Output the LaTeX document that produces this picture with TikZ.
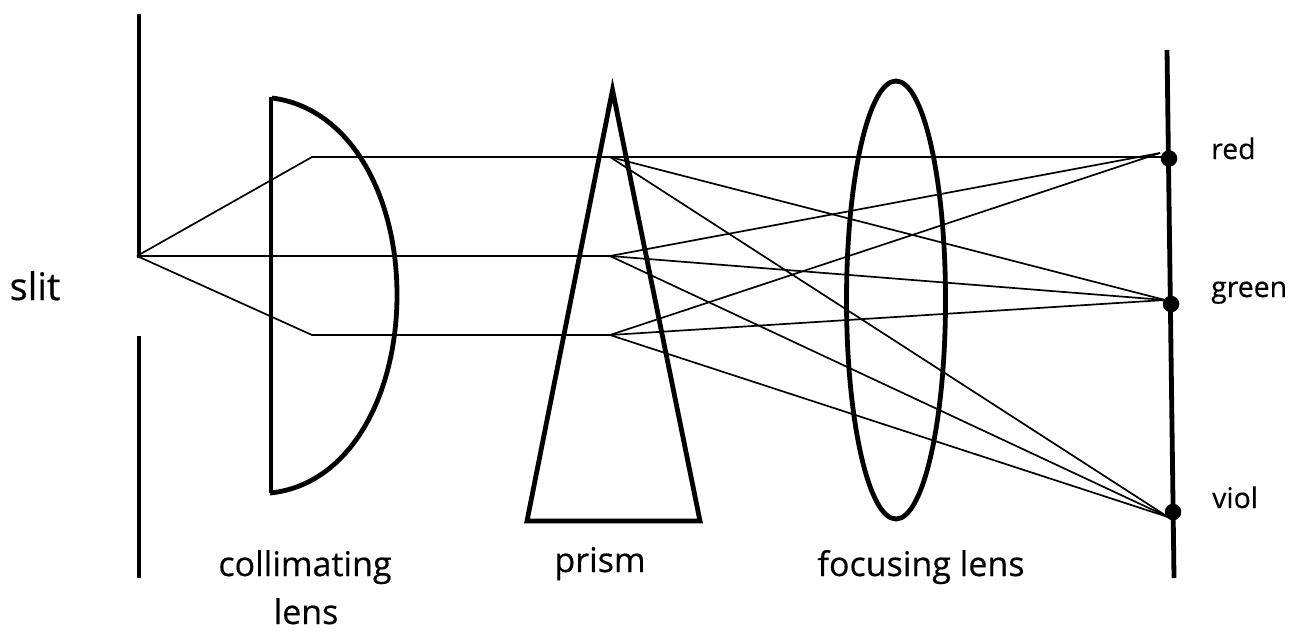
\documentclass[tikz,border=0pt]{standalone}
\usepackage{fontspec}
\setmainfont{Open Sans}[FakeBold=0.4]
\newfontfamily\labfont{Open Sans}[FakeBold=0.4]
\begin{document}
\begin{tikzpicture}[x=1pt,y=-1pt,
  ray/.style={line width=1.7pt,black},
  optic/.style={line width=4.8pt,black},
  dotmark/.style={circle,fill=black,inner sep=0pt,minimum size=16.5pt},
  big/.style={inner sep=0pt,font=\labfont\fontsize{38}{44}\selectfont},
  lab/.style={inner sep=0pt,font=\labfont\fontsize{34}{40}\selectfont},
  small/.style={inner sep=0pt,font=\labfont\fontsize{28.4}{32}\selectfont}]
\useasboundingbox (0,0) rectangle (1300,630);
\fill[white] (0,0) rectangle (1300,630);
\coordinate (src) at (137,256);
\coordinate (slt) at (139,14);
\coordinate (slm) at (139,258);
\coordinate (slb) at (139,336);
\coordinate (sle) at (139,578);
\coordinate (a1) at (312,157);
\coordinate (a2) at (312,256);
\coordinate (a3) at (312,335);
\coordinate (p1) at (610,157);
\coordinate (p2) at (610,256);
\coordinate (p3) at (610,335);
\coordinate (rh) at (1168,157);
\coordinate (rr) at (1160,153);
\coordinate (gg) at (1165,300);
\coordinate (vv) at (1168,517);
\coordinate (st) at (1167,50);
\coordinate (sb) at (1174,578);
% slit
\draw[optic] (slt) -- (slm);
\draw[optic] (slb) -- (sle);
% rays
\draw[ray] (src) -- (a1) -- (p1) -- (rh);
\draw[ray] (src) -- (a2) -- (p2);
\draw[ray] (src) -- (a3) -- (p3);
\draw[ray] (p1) -- (gg);
\draw[ray] (p1) -- (vv);
\draw[ray] (p2) -- (rr);
\draw[ray] (p2) -- (gg);
\draw[ray] (p2) -- (vv);
\draw[ray] (p3) -- (rr);
\draw[ray] (p3) -- (gg);
\draw[ray] (p3) -- (vv);
% collimating lens
\draw[optic] (271,97) -- (271,493);
\draw[optic] (272,98) .. controls (350,108) and (397,195) .. (397,295) .. controls (397,395) and (350,485) .. (270,493);
% prism
\draw[optic,miter limit=20] (612.5,90) -- (700,521) -- (527,521) -- cycle;
% focusing lens
\draw[optic] (896,300) ellipse [x radius=49.5, y radius=219];
% screen
\draw[optic] (st) -- (sb);
\node[dotmark] (dr) at (1169,158.5) {};
\node[dotmark] (dg) at (1171,304) {};
\node[dotmark] (dv) at (1173,512) {};
% labels
\node[small,anchor=base west] (tr) at (1211,159) {red};
\node[small,anchor=base west] (tg) at (1211,297) {green};
\node[small,anchor=base west] (tv) at (1212,508) {viol};
\node[big,anchor=base] (ts) at (35,300) {slit};
\node[lab,anchor=base] (tc1) at (305,576) {collimating};
\node[lab,anchor=base] (tc2) at (306,624) {lens};
\node[lab,anchor=base] (tp) at (600,572) {prism};
\node[lab,anchor=base] (tf) at (921,576) {focusing lens};
\end{tikzpicture}
\end{document}
